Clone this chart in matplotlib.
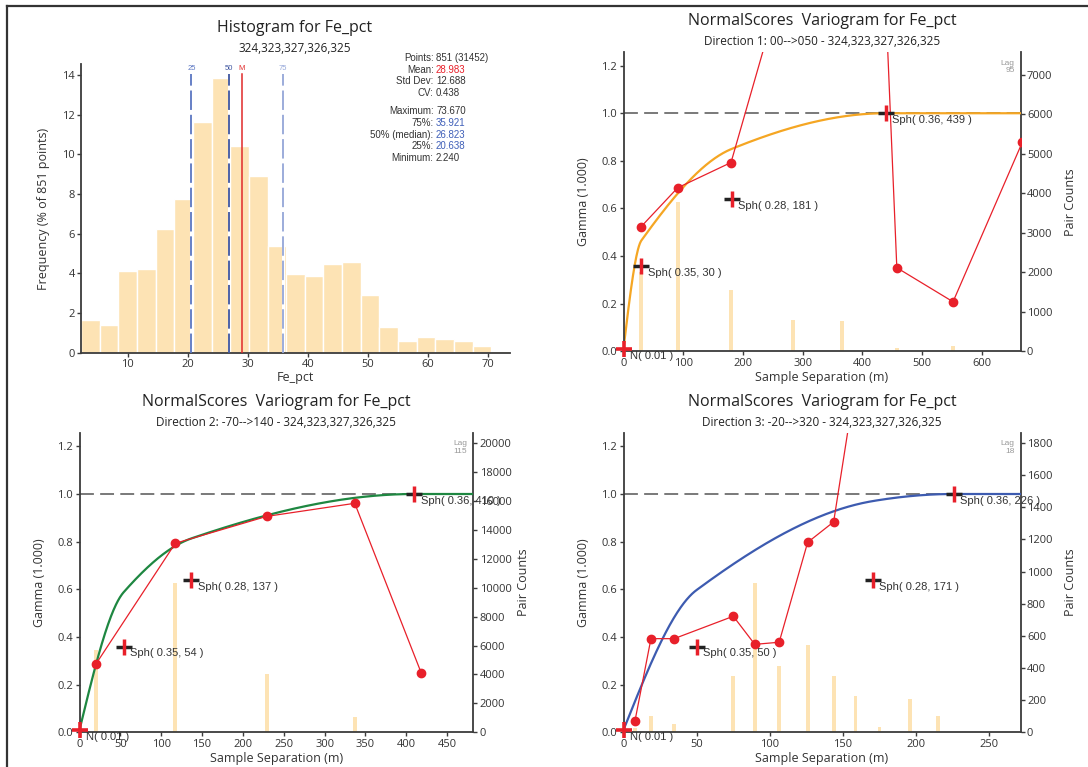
import numpy as np
import matplotlib
matplotlib.use("Agg")
import matplotlib.pyplot as plt
from matplotlib.lines import Line2D

plt.rcParams['font.family'] = ['Open Sans', 'DejaVu Sans']
plt.rcParams['lines.scale_dashes'] = False

W, H = 1088, 767

# ---- histogram data ----
fe_min, fe_max = 2.24, 73.67
hist_freq = [1.65, 1.41, 4.12, 4.24, 6.25, 7.76, 11.65, 13.87, 10.44, 8.92, 5.39,
             3.97, 3.87, 4.48, 4.58, 2.91, 1.30, 0.61, 0.79, 0.71, 0.61, 0.35, 0.10]
q_lines = [('25', 20.638, '#5b76c2', '--'), ('50', 26.823, '#3f56a0', '--'),
           ('M', 28.983, '#e02a2a', '-'), ('75', 35.921, '#94a6d8', '--')]
stat_labels = ['Points:', 'Mean:', 'Std Dev:', 'CV:', 'Maximum:', '75%:', '50% (median):', '25%:', 'Minimum:']
stat_values = ['851 (31452)', '28.983', '12.688', '0.438', '73.670', '35.921', '26.823', '20.638', '2.240']
stat_colors = ['#333333', '#e8202a', '#333333', '#333333', '#333333', '#3f5fb8', '#3f5fb8', '#3f5fb8', '#333333']
stat_rows_px = [58, 69.7, 81.3, 93.3, 111, 122.7, 134.7, 146.3, 158.3]

# ---- variogram data ----
nugget = 0.01
d1_lag = [29.7, 90.7, 180.0, 285.0, 365.0, 457.6, 551.7, 668.0]
d1_gamma = [0.524, 0.687, 0.793, 1.71, 5.9, 0.351, 0.208, 0.88]
d1_bar_lag = [29.7, 90.7, 180.0, 284.0, 365.5, 457.6, 551.7]
d1_pairs = [2000, 3780, 1551, 793, 767, 93, 135]
d1_struct = [(0.35, 30), (0.28, 181), (0.36, 439)]

d2_lag = [20.4, 117.2, 229.0, 336.9, 418.4]
d2_gamma = [0.288, 0.793, 0.906, 0.961, 0.248]
d2_pairs = [5714, 10323, 4032, 1083, 70]
d2_struct = [(0.35, 54), (0.28, 137), (0.36, 410)]

d3_lag = [7.8, 18.8, 34.7, 75.2, 89.9, 106.6, 126.1, 143.9, 158.9]
d3_gamma = [0.046, 0.393, 0.393, 0.487, 0.369, 0.378, 0.797, 0.883, 1.47]
d3_bar_lag = [7.8, 18.8, 34.7, 75.2, 89.9, 106.6, 126.1, 143.9, 158.9, 175.3, 196.2, 215.5]
d3_pairs = [27, 104, 54, 351, 929, 413, 544, 351, 226, 33, 207, 102]
d3_struct = [(0.35, 50), (0.28, 171), (0.36, 226)]

BAR = '#fde3b4'
SPINE = '#3c3c3c'
TXT = '#333333'
RED = '#e8202a'


def fx(x):
    return x / W


def fy(y):
    return 1 - y / H


def box(l, t, r, b):
    return [fx(l), fy(b), fx(r) - fx(l), fy(t) - fy(b)]


def sph_model(h, structs):
    g = np.where(h > 0, nugget, 0.0)
    for c, a in structs:
        r = np.minimum(h / a, 1.0)
        g = g + c * (1.5 * r - 0.5 * r ** 3)
    return g


def style_ticks(ax):
    ax.tick_params(direction='out', length=3, width=1, color=SPINE, labelcolor=TXT,
                   labelsize=8, pad=1.5)


fig = plt.figure(figsize=(W / 100, H / 100), dpi=100)

# outer frame (top + left)
fig.add_artist(Line2D([fx(7), 1], [fy(6), fy(6)], color='#333333', lw=1.6))
fig.add_artist(Line2D([fx(7), fx(7)], [fy(6), 0], color='#333333', lw=1.6))

# ================= histogram =================
ax = fig.add_axes(box(81, 64.3, 510, 352.7))
edges = np.linspace(fe_min, fe_max, len(hist_freq) + 1)
ax.bar(edges[:-1], hist_freq, width=np.diff(edges), align='edge', color=BAR,
       edgecolor='white', linewidth=1.0, zorder=1)
for lab, v, c, ls in q_lines:
    if ls == '--':
        ax.plot([v, v], [0, 14.07], color='white', lw=2.2, zorder=2)
        ax.plot([v, v], [0, 14.07], color=c, lw=1.3, dashes=(14, 3.5), zorder=3)
    else:
        ax.plot([v, v], [0, 14.07], color=c, lw=1.1, zorder=3)
    ax.text(v, 14.32, lab, color=c, fontsize=5.5, ha='center', va='center',
            family=['Liberation Sans'])
ax.set_xlim(fe_min, fe_max)
ax.set_ylim(0, 14.55)
ax.set_xticks(range(10, 71, 10))
ax.set_yticks(range(0, 15, 2))
for s in ['top', 'right']:
    ax.spines[s].set_visible(False)
for s in ['left', 'bottom']:
    ax.spines[s].set_color(SPINE)
    ax.spines[s].set_linewidth(1.3)
style_ticks(ax)
fig.text(fx(295), fy(28), 'Histogram for Fe_pct', ha='center', va='center', fontsize=11.5, color='#222222')
fig.text(fx(295), fy(49), '324,323,327,326,325', ha='center', va='center', fontsize=8.5, color='#222222')
fig.text(fx(295), fy(377), 'Fe_pct', ha='center', va='center', fontsize=9, color=TXT)
fig.text(fx(43.4), fy(208.5), 'Frequency (% of 851 points)', ha='center', va='center',
         rotation=90, fontsize=9, color=TXT)
for lab, val, col, yp in zip(stat_labels, stat_values, stat_colors, stat_rows_px):
    fig.text(fx(433.5), fy(yp), lab, ha='right', va='center', fontsize=7, color=TXT,
             family=['Liberation Sans'])
    fig.text(fx(436), fy(yp), val, ha='left', va='center', fontsize=7, color=col,
             family=['Liberation Sans'])


# ================= variograms =================
def variogram(rect, center_x, top_px, bottom_px, left_px, right_px, title2, lags, gammas,
              bar_lags, pairs, structs, model_color, xmax, xticks, pmax, pticks, barw, lagtxt):
    ax = fig.add_axes(rect)
    ax2 = ax.twinx()
    ax.set_zorder(ax2.get_zorder() + 1)
    ax.patch.set_visible(False)

    ax2.bar(bar_lags, pairs, width=barw, color=BAR, linewidth=0)
    ax2.set_ylim(0, pmax)
    ax2.set_yticks(pticks)

    ax.axhline(1.0, color='#555555', lw=1.1, dashes=(10, 4.5), zorder=1)
    h = np.linspace(0, xmax, 800)
    ax.plot(h, sph_model(h, structs), color=model_color, lw=1.6, zorder=2)
    ax.plot(lags, gammas, color=RED, lw=0.9, marker='o', ms=6, mec=RED, mfc=RED, zorder=3)

    # model crosses
    ax.plot([0], [nugget], marker='_', ms=11.5, mew=2.6, color=RED, clip_on=False, zorder=5)
    ax.plot([0], [nugget], marker='|', ms=11.5, mew=2.6, color=RED, clip_on=False, zorder=5)
    ax.annotate('N( 0.01 )', (0, nugget), xytext=(4.5, -5), textcoords='offset points',
                ha='left', va='center', fontsize=8, color=TXT, family=['Liberation Sans'],
                annotation_clip=False, zorder=6)
    cum = nugget
    for c, a in structs:
        cum += c
        ax.plot([a], [cum], marker='_', ms=11.5, mew=2.5, color='#222222', clip_on=False, zorder=5)
        ax.plot([a], [cum], marker='|', ms=11.5, mew=2.5, color=RED, clip_on=False, zorder=5)
        ax.annotate('Sph( %.2f, %d )' % (c, a), (a, cum), xytext=(4.5, -5),
                    textcoords='offset points', ha='left', va='center', fontsize=8,
                    color=TXT, family=['Liberation Sans'], annotation_clip=False, zorder=6)

    ax.text(0.985, 0.975, lagtxt, transform=ax.transAxes, ha='right', va='top',
            fontsize=6, color='#999999', linespacing=1.1, family=['Liberation Sans'])

    ax.set_xlim(0, xmax)
    ax.set_ylim(0, 1.256)
    ax.set_xticks(xticks)
    ax.set_yticks(np.arange(0, 1.21, 0.2))
    ax.yaxis.set_major_formatter(matplotlib.ticker.FormatStrFormatter('%.1f'))
    for a_ in (ax, ax2):
        a_.spines['top'].set_visible(False)
        style_ticks(a_)
    ax.spines['right'].set_visible(False)
    ax2.spines['left'].set_visible(False)
    ax2.spines['bottom'].set_visible(False)
    ax.spines['left'].set_color(SPINE)
    ax.spines['bottom'].set_color(SPINE)
    ax2.spines['right'].set_color(SPINE)
    for s in (ax.spines['left'], ax.spines['bottom'], ax2.spines['right']):
        s.set_linewidth(1.3)

    fig.text(fx(center_x), fy(top_px - 31), 'NormalScores  Variogram for Fe_pct', ha='center',
             va='center', fontsize=11.5, color='#222222')
    fig.text(fx(center_x), fy(top_px - 10.5), title2, ha='center', va='center',
             fontsize=8.5, color='#222222')
    fig.text(fx(center_x), fy(bottom_px + 26.5), 'Sample Separation (m)', ha='center',
             va='center', fontsize=9, color=TXT)
    mid = (top_px + bottom_px) / 2
    fig.text(fx(left_px - 40), fy(mid), 'Gamma (1.000)', ha='center', va='center',
             rotation=90, fontsize=9, color=TXT)
    fig.text(fx(right_px + 50), fy(mid), 'Pair Counts', ha='center', va='center',
             rotation=90, fontsize=9, color=TXT)


variogram(box(623.5, 52.3, 1020.7, 351.3), 822, 52.3, 351.3, 623.5, 1020.7,
          'Direction 1: 00-->050 - 324,323,327,326,325', d1_lag, d1_gamma, d1_bar_lag, d1_pairs,
          d1_struct, '#f5a623', 665, range(0, 601, 100), 7565, range(0, 7001, 1000), 7, 'Lag\n95')
variogram(box(79.5, 433, 473.3, 732.3), 276.4, 433, 732.3, 79.5, 473.3,
          'Direction 2: -70-->140 - 324,323,327,326,325', d2_lag, d2_gamma, d2_lag, d2_pairs,
          d2_struct, '#1e8741', 482, range(0, 451, 50), 20691, range(0, 20001, 2000), 5, 'Lag\n115')
variogram(box(623.5, 433, 1020.7, 732.3), 822, 433, 732.3, 623.5, 1020.7,
          'Direction 3: -20-->320 - 324,323,327,326,325', d3_lag, d3_gamma, d3_bar_lag, d3_pairs,
          d3_struct, '#3d5bb0', 272, range(0, 251, 50), 1862, range(0, 1801, 200), 2.6, 'Lag\n18')

fig.savefig('out.png', dpi=100)
